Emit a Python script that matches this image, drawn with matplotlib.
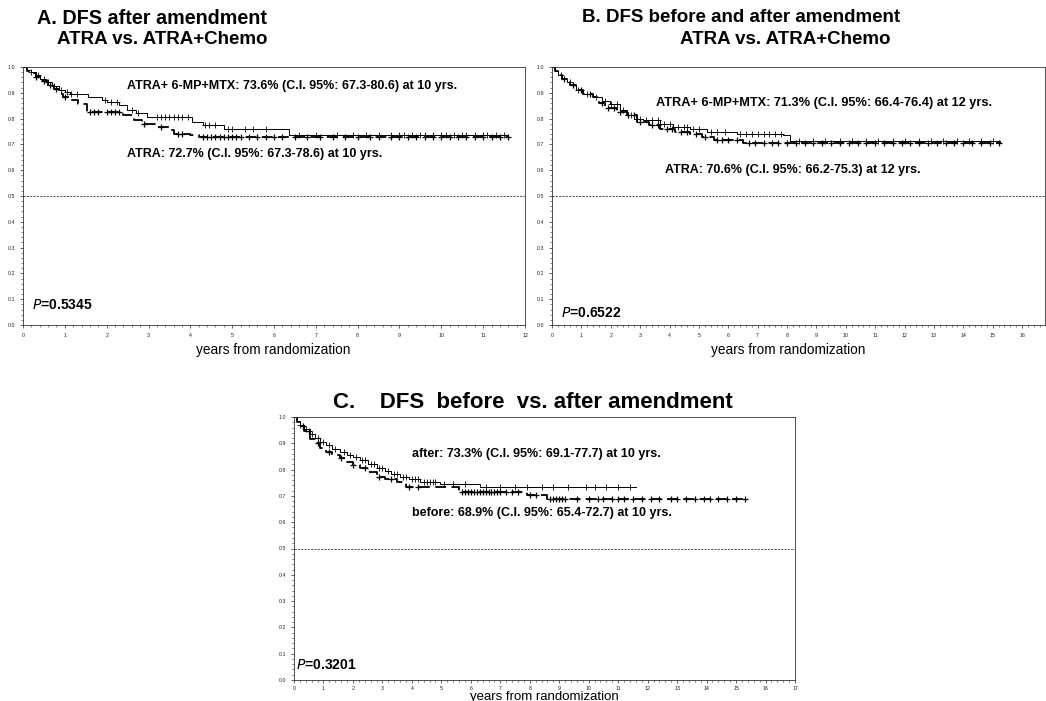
import numpy as np
import matplotlib
matplotlib.use("Agg")
import matplotlib.pyplot as plt
from matplotlib.ticker import MultipleLocator, FormatStrFormatter

plt.rcParams['font.family'] = ['Liberation Sans', 'DejaVu Sans']

# ---- panel A: after amendment, ATRA vs ATRA+chemo
a_chemo_t = [0, 0.1, 0.2, 0.3, 0.4, 0.55, 0.7, 0.85, 1.0, 1.12, 1.56, 1.9, 2.0, 2.3,
             2.48, 2.7, 2.96, 4.05, 4.3, 4.8, 6.35]
a_chemo_s = [1.0, 0.99, 0.98, 0.97, 0.955, 0.94, 0.925, 0.912, 0.905, 0.897, 0.884, 0.872,
             0.864, 0.852, 0.832, 0.82, 0.806, 0.787, 0.774, 0.761, 0.736]
a_chemo_end = 11.6
a_chemo_cens = [0.2, 0.35, 0.5, 0.6, 0.75, 0.9, 1.05, 1.15, 1.3, 1.95, 2.1, 2.25, 2.6, 2.75,
                3.2, 3.3, 3.4, 3.5, 3.6, 3.7, 3.8, 3.95, 4.35, 4.45, 4.6, 4.9, 5.0, 5.3, 5.5,
                5.8, 6.6, 7.0, 7.5, 7.9, 8.2, 8.5, 8.8, 9.0, 9.1, 9.3, 9.5, 9.6, 9.8, 10.0,
                10.1, 10.3, 10.5, 10.6, 10.8, 11.0, 11.1, 11.3, 11.5]

a_atra_t = [0, 0.1, 0.2, 0.3, 0.45, 0.6, 0.74, 0.85, 0.96, 1.12, 1.32, 1.52, 2.4, 2.65,
            2.85, 3.2, 3.5, 3.6, 4.0, 4.2]
a_atra_s = [1.0, 0.985, 0.975, 0.96, 0.945, 0.93, 0.916, 0.897, 0.884, 0.871, 0.858, 0.826,
            0.813, 0.793, 0.78, 0.767, 0.755, 0.741, 0.735, 0.727]
a_atra_end = 11.6
a_atra_cens = [0.3, 0.5, 0.65, 0.8, 1.0, 1.6, 1.7, 1.8, 2.0, 2.1, 2.2, 2.3, 2.9, 3.3, 3.7,
               3.8, 4.3, 4.4, 4.5, 4.6, 4.7, 4.8, 4.9, 5.0, 5.1, 5.2, 5.4, 5.6, 5.8, 6.0,
               6.2, 6.5, 6.8, 7.1, 7.4, 7.7, 8.0, 8.3, 8.5, 8.8, 9.0, 9.2, 9.4, 9.6, 9.8,
               10.0, 10.2, 10.4, 10.6, 10.8, 11.0, 11.2, 11.4, 11.6]

# ---- panel B: before and after amendment, ATRA vs ATRA+chemo
b_chemo_t = [0, 0.1, 0.2, 0.35, 0.5, 0.61, 0.8, 1.07, 1.41, 1.7, 1.97, 2.3, 2.54, 2.8,
             3.11, 3.68, 4.13, 4.7, 5.27, 6.29, 7.87, 8.1]
b_chemo_s = [1.0, 0.985, 0.97, 0.955, 0.94, 0.929, 0.912, 0.897, 0.884, 0.87, 0.858, 0.832,
             0.813, 0.80, 0.793, 0.78, 0.767, 0.761, 0.748, 0.741, 0.735, 0.713]
b_chemo_end = 15.25
b_chemo_cens = [0.3, 0.6, 0.9, 1.2, 1.5, 1.8, 2.0, 2.2, 2.4, 2.6, 2.7, 2.9, 3.0, 3.2, 3.4,
                3.6, 3.8, 4.0, 4.3, 4.5, 4.6, 4.8, 5.0, 5.4, 5.6, 5.9, 6.4, 6.6, 6.8, 7.0,
                7.2, 7.4, 7.6, 7.8, 8.4, 8.9, 9.3, 9.8, 10.2, 10.7, 11.1, 11.6, 12.0, 12.5,
                12.9, 13.3, 13.8, 14.2, 14.6, 15.0]

b_atra_t = [0, 0.1, 0.2, 0.35, 0.5, 0.61, 0.8, 1.07, 1.41, 1.6, 1.8, 2.2, 2.54, 2.88, 3.3,
            3.68, 4.2, 4.7, 5.1, 5.5, 6.5]
b_atra_s = [1.0, 0.985, 0.97, 0.955, 0.94, 0.929, 0.912, 0.897, 0.884, 0.86, 0.84, 0.826,
            0.813, 0.787, 0.775, 0.761, 0.75, 0.741, 0.728, 0.716, 0.706]
b_atra_end = 15.3
b_atra_cens = [0.4, 0.7, 1.0, 1.3, 1.7, 1.9, 2.1, 2.3, 2.6, 2.8, 3.0, 3.4, 3.6, 3.9, 4.1,
               4.4, 4.6, 4.9, 5.2, 5.6, 5.8, 6.0, 6.3, 6.7, 6.9, 7.2, 7.5, 7.7, 8.0, 8.3,
               8.6, 8.9, 9.2, 9.5, 9.8, 10.1, 10.4, 10.7, 11.0, 11.3, 11.6, 11.9, 12.2,
               12.5, 12.8, 13.1, 13.4, 13.7, 14.0, 14.3, 14.6, 14.9, 15.2]

# ---- panel C: before vs after amendment
c_after_t = [0, 0.1, 0.2, 0.35, 0.54, 0.7, 0.88, 1.1, 1.3, 1.56, 1.8, 2.0, 2.24, 2.5, 2.8,
             3.1, 3.3, 3.6, 3.9, 4.28, 4.95, 6.3]
c_after_s = [1.0, 0.985, 0.97, 0.955, 0.937, 0.92, 0.906, 0.893, 0.88, 0.868, 0.857, 0.847,
             0.837, 0.822, 0.805, 0.793, 0.785, 0.773, 0.763, 0.754, 0.745, 0.733]
c_after_end = 11.6
c_after_cens = [0.2, 0.4, 0.6, 0.8, 1.0, 1.2, 1.4, 1.7, 1.9, 2.1, 2.3, 2.4, 2.6, 2.7, 2.9,
                3.0, 3.2, 3.4, 3.5, 3.7, 3.8, 4.0, 4.1, 4.2, 4.4, 4.5, 4.6, 4.7, 4.8, 5.1,
                5.4, 5.8, 6.5, 7.0, 7.5, 7.9, 8.4, 8.8, 9.3, 9.9, 10.2, 10.6, 11.0, 11.4]

c_before_t = [0, 0.1, 0.2, 0.35, 0.54, 0.7, 0.88, 1.1, 1.3, 1.56, 1.8, 2.0, 2.24, 2.5, 2.8,
              3.1, 3.5, 3.8, 5.6, 7.9, 8.57]
c_before_s = [1.0, 0.98, 0.965, 0.945, 0.918, 0.9, 0.881, 0.866, 0.855, 0.843, 0.83, 0.818,
              0.805, 0.79, 0.773, 0.763, 0.754, 0.735, 0.716, 0.703, 0.689]
c_before_end = 15.3
c_before_cens = [0.3, 0.5, 0.8, 1.2, 1.6, 2.0, 2.4, 2.9, 3.3, 3.9, 4.2, 5.7, 5.8, 5.9, 6.0,
                 6.1, 6.2, 6.3, 6.4, 6.5, 6.6, 6.7, 6.8, 6.9, 7.0, 7.2, 7.4, 7.6, 8.0, 8.2,
                 8.7, 8.8, 8.9, 9.0, 9.1, 9.2, 9.6, 10.0, 10.3, 10.5, 10.8, 11.0, 11.2, 11.5,
                 11.8, 12.1, 12.4, 12.8, 13.0, 13.3, 13.6, 13.9, 14.1, 14.4, 14.7, 15.0, 15.3]

W, H = 1046, 701


def km_curve(ax, t, s, end, cens, dashed):
    t = np.asarray(t)
    s = np.asarray(s)
    xs = np.append(t, end)
    ys = np.append(s, s[-1])
    if dashed:
        ax.step(xs, ys, where='post', color='black', lw=1.3, ls=(0, (6, 3)))
    else:
        ax.step(xs, ys, where='post', color='black', lw=0.7)
    c = np.asarray(cens)
    cy = s[np.searchsorted(t, c, side='right') - 1]
    ax.plot(c, cy, ls='none', marker='+', ms=4.5 if dashed else 4,
            mew=0.9 if dashed else 0.6, color='black')


def setup_axes(rect_px, xmax, xticks_max, xpad=3):
    left, top, right, bottom = rect_px
    ax = fig.add_axes([left / W, (H - bottom) / H, (right - left) / W, (bottom - top) / H])
    ax.set_xlim(0, xmax)
    ax.set_ylim(0, 1.0)
    ax.set_xticks(np.arange(0, xticks_max + 1, 1))
    ax.set_yticks(np.arange(0, 1.01, 0.1))
    ax.yaxis.set_major_formatter(FormatStrFormatter('%.1f'))
    ax.xaxis.set_minor_locator(MultipleLocator(0.2))
    ax.yaxis.set_minor_locator(MultipleLocator(0.02))
    ax.tick_params(which='major', direction='out', length=2.5, width=0.5, labelsize=3.8,
                   pad=3, colors='#222222')
    ax.tick_params(axis='x', which='major', pad=xpad)
    ax.tick_params(which='minor', direction='out', length=1.3, width=0.4, colors='#222222')
    for sp in ax.spines.values():
        sp.set_linewidth(0.6)
        sp.set_color('#333333')
    ax.axhline(0.5, color='#333333', lw=0.6, ls=(0, (2.5, 1.5)))
    return ax


def ftext(x, y, s, bold=True, ha='left', **kw):
    fig.text(x / W, 1 - y / H, s, va='center', ha=ha,
             fontweight='bold' if bold else 'normal', **kw)


fig = plt.figure(figsize=(W / 100, H / 100), dpi=100)

# panel A
axA = setup_axes((23, 67, 525, 325), 12, 12)
km_curve(axA, a_chemo_t, a_chemo_s, a_chemo_end, a_chemo_cens, dashed=False)
km_curve(axA, a_atra_t, a_atra_s, a_atra_end, a_atra_cens, dashed=True)

# panel B
axB = setup_axes((552, 67, 1045, 325), (1045 - 552) / 29.375, 16)
km_curve(axB, b_chemo_t, b_chemo_s, b_chemo_end, b_chemo_cens, dashed=False)
km_curve(axB, b_atra_t, b_atra_s, b_atra_end, b_atra_cens, dashed=True)

# panel C
axC = setup_axes((294, 417, 795, 680), 17, 17, xpad=1.5)
km_curve(axC, c_after_t, c_after_s, c_after_end, c_after_cens, dashed=False)
km_curve(axC, c_before_t, c_before_s, c_before_end, c_before_cens, dashed=True)

# axis labels
ftext(273, 350, 'years from randomization', bold=False, ha='center', fontsize=9.8)
ftext(788, 350, 'years from randomization', bold=False, ha='center', fontsize=9.8)
ftext(544, 697, 'years from randomization', bold=False, ha='center', fontsize=9.5)

# titles
ftext(37, 18, 'A. DFS after amendment', fontsize=14.2)
ftext(57, 40, 'ATRA vs. ATRA+Chemo', fontsize=13.5)
ftext(582, 18, 'B. DFS before and after amendment', fontsize=13.5)
ftext(680, 40, 'ATRA vs. ATRA+Chemo', fontsize=13.5)
ftext(333, 403, 'C.    DFS  before  vs. after amendment', fontsize=16)

# annotations
ftext(127, 86, 'ATRA+ 6-MP+MTX: 73.6% (C.I. 95%: 67.3-80.6) at 10 yrs.', fontsize=9)
ftext(127, 154, 'ATRA: 72.7% (C.I. 95%: 67.3-78.6) at 10 yrs.', fontsize=9)
ftext(656, 103, 'ATRA+ 6-MP+MTX: 71.3% (C.I. 95%: 66.4-76.4) at 12 yrs.', fontsize=9.2)
ftext(665, 170, 'ATRA: 70.6% (C.I. 95%: 66.2-75.3) at 12 yrs.', fontsize=9)
ftext(412, 454, 'after: 73.3% (C.I. 95%: 69.1-77.7) at 10 yrs.', fontsize=9)
ftext(412, 513, 'before: 68.9% (C.I. 95%: 65.4-72.7) at 10 yrs.', fontsize=9)

# p-values
ftext(32, 305, r'$\bf{\it{P}}$=0.5345', fontsize=10)
ftext(561, 313, r'$\bf{\it{P}}$=0.6522', fontsize=10)
ftext(296, 665, r'$\bf{\it{P}}$=0.3201', fontsize=10)

fig.savefig('out.png', dpi=100)
